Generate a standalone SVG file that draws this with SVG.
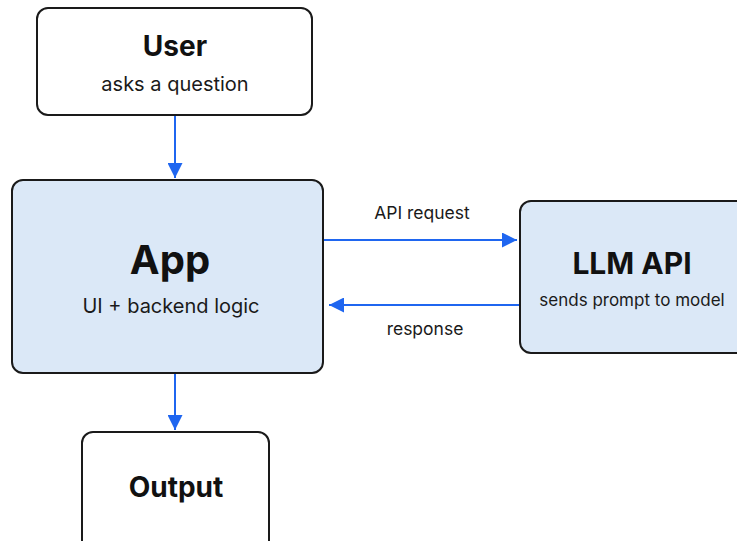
<svg xmlns="http://www.w3.org/2000/svg" width="737" height="541" viewBox="0 0 737 541">
  <style>
    .box { stroke: #1a1a1a; stroke-width: 2; }
    .plain { fill: #ffffff; }
    .tinted { fill: #dbe8f7; }
    .title { font-family: Inter, "Liberation Sans", sans-serif; font-weight: 700; fill: #111; text-anchor: middle; }
    .sub { font-family: Inter, "Liberation Sans", sans-serif; fill: #1a1a1a; text-anchor: middle; }
    .edge { stroke: #1f66f0; stroke-width: 2; fill: none; }
    .elabel { font-family: Inter, "Liberation Sans", sans-serif; font-size: 17.5px; fill: #1a1a1a; text-anchor: middle; }
  </style>
  <defs>
    <marker id="arrow" viewBox="0 0 10 10" refX="10" refY="5" markerWidth="15" markerHeight="15" markerUnits="userSpaceOnUse" orient="auto">
      <path d="M0,0 L10,5 L0,10 Z" fill="#1f66f0"/>
    </marker>
  </defs>
  <rect width="737" height="541" fill="#ffffff"/>

  <g id="connectors">
    <line class="edge" x1="175" y1="115" x2="175" y2="178" marker-end="url(#arrow)"/>
    <line class="edge" x1="175" y1="373" x2="175" y2="430" marker-end="url(#arrow)"/>
    <line class="edge" x1="323" y1="240" x2="517" y2="240" marker-end="url(#arrow)"/>
    <line class="edge" x1="520" y1="305" x2="329" y2="305" marker-end="url(#arrow)"/>
    <text class="elabel" x="422" y="219">API request</text>
    <text class="elabel" x="425" y="335">response</text>
  </g>

  <g id="user">
    <rect class="box plain" x="37" y="8" width="275" height="107" rx="11"/>
    <text class="title" x="175" y="56" font-size="28">User</text>
    <text class="sub" x="175" y="91" font-size="20">asks a question</text>
  </g>

  <g id="app">
    <rect class="box tinted" x="12" y="180" width="311" height="193" rx="11"/>
    <text class="title" x="170" y="274" font-size="40">App</text>
    <text class="sub" x="171" y="313" font-size="20">UI + backend logic</text>
  </g>

  <g id="llm-api">
    <rect class="box tinted" x="520" y="201" width="230" height="152" rx="11"/>
    <text class="title" x="632" y="274" font-size="30">LLM API</text>
    <text class="sub" x="632" y="306" font-size="17">sends prompt to model</text>
  </g>

  <g id="output">
    <rect class="box plain" x="82" y="432" width="187" height="120" rx="11"/>
    <text class="title" x="176" y="497" font-size="28">Output</text>
  </g>
</svg>
